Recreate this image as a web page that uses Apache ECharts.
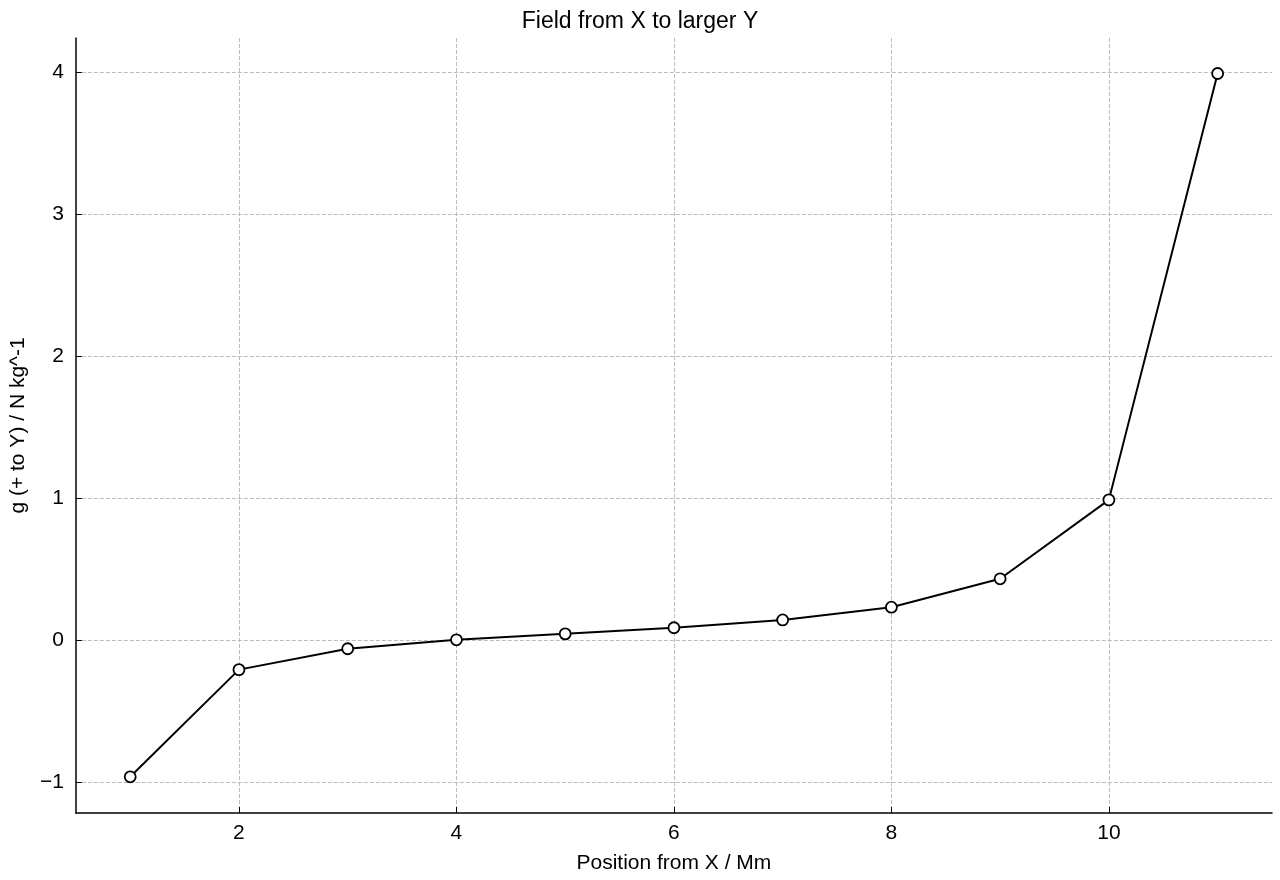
<!DOCTYPE html>
<html><head><meta charset="utf-8">
<script src="https://cdn.jsdelivr.net/npm/echarts@6/dist/echarts.min.js"></script>
<style>html,body{margin:0;padding:0;background:#fff}#c{width:1280px;height:880px}</style>
</head><body><div id="c"></div>
<script>
const xValues = [1,2,3,4,5,6,7,8,9,10,11];
const gValues = [-0.965,-0.21,-0.063,0,0.042,0.085,0.14,0.23,0.43,0.986,3.99];
const xTicks = [2,4,6,8,10];
const yTicks = [-1,0,1,2,3,4];
const F = 'Liberation Sans, Arial, sans-serif';
const chart = echarts.init(document.getElementById('c'));
chart.setOption({
  animation:false,
  title:{text:'Field from X to larger Y',left:'center',top:5,textStyle:{fontFamily:F,fontSize:23,fontWeight:'normal',color:'#000'}},
  grid:{left:73,right:8,top:38,bottom:67},
  xAxis:{type:'value',min:0.5,max:11.5,name:'Position from X / Mm',nameLocation:'middle',nameGap:40,
    nameTextStyle:{fontFamily:F,fontSize:21,color:'#000'},
    axisLine:{onZero:false,lineStyle:{color:'#000',width:1.5}},
    axisTick:{inside:true,length:6,customValues:xTicks,lineStyle:{color:'#000'}},
    axisLabel:{customValues:xTicks,fontFamily:F,fontSize:21,color:'#000',margin:10},
    splitLine:{show:true,lineStyle:{type:'dashed',color:'#bbb'}}},
  yAxis:{type:'value',min:-1.22,max:4.24,name:'g (+ to Y) / N kg^-1',nameLocation:'middle',nameGap:45,
    nameTextStyle:{fontFamily:F,fontSize:21,color:'#000'},
    axisLine:{show:true,onZero:false,lineStyle:{color:'#000',width:1.5}},
    axisTick:{show:true,inside:true,length:6,customValues:yTicks,lineStyle:{color:'#000'}},
    axisLabel:{customValues:yTicks,fontFamily:F,fontSize:21,color:'#000',margin:12,formatter:v=>v<0?'\u2212'+Math.abs(v):String(v)},
    splitLine:{show:true,lineStyle:{type:'dashed',color:'#bbb'}}},
  series:[{type:'line',data:xValues.map((x,i)=>[x,gValues[i]]),symbol:'circle',symbolSize:11,
    lineStyle:{color:'#000',width:2},itemStyle:{color:'#fff',borderColor:'#000',borderWidth:1.8}}]
});
</script></body></html>
